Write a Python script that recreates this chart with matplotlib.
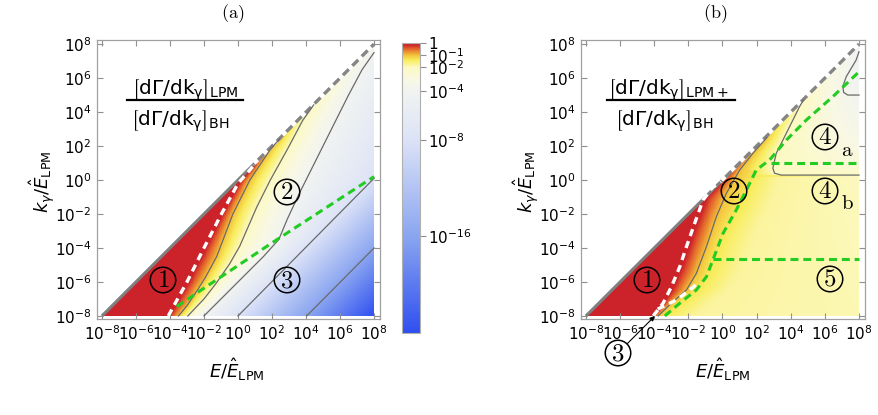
import numpy as np
import matplotlib.pyplot as plt
from matplotlib.colors import LinearSegmentedColormap, LogNorm
from matplotlib.cm import ScalarMappable

W, H = 879, 415
plt.rcParams['mathtext.fontset'] = 'dejavusans'

# decades shown on both axes (log10)
E_LIM = (-8.29, 8.35)
K_LIM = (-8.18, 8.24)
tick_exp = [-8, -6, -4, -2, 0, 2, 4, 6, 8]
cbar_ticks = [1, 1e-1, 1e-2, 1e-4, 1e-8, 1e-16]
cbar_labels = ['1', r'$10^{-1}$', r'$10^{-2}$', r'$10^{-4}$', r'$10^{-8}$', r'$10^{-16}$']

# colour scale: log10(ratio) -> colour
cmap_levels = [-24, -16, -8, -4, -3, -2, -1.4, -1, -0.5, -0.15, 0]
cmap_colors = ['#2e4ff0', '#8aa5f0', '#dce3f7', '#f1f3f1', '#f8f8e4', '#fcf9c2',
               '#f8ec5c', '#f3c23a', '#e46a2c', '#ce2529', '#cc2229']

# ---- panel (a): lines, (log10 E, log10 k), k increasing
a_white = [(-4.1, -8), (-3.0, -6.0), (-2.0, -4.0), (-1.0, -2.05), (0.0, -0.2), (0.6, 0.47), (1.0, 0.95)]
a_c1 = [(-3.5, -8), (-3.0, -7.4), (-2.4, -6.5), (-1.9, -5.7), (-1.25, -4.5), (-0.3, -2.0),
        (0.7, 0.0), (1.9, 1.8), (2.45, 2.42)]
a_c2 = [(-2.95, -8), (-2.0, -7.0), (-1.3, -6.1), (-0.5, -4.95), (0.1, -3.9), (1.1, -1.6),
        (1.9, 0.0), (2.9, 1.8), (3.8, 3.5), (4.45, 4.42)]
a_c4 = [(-2.0, -8), (0.0, -6.0), (1.5, -4.5), (2.4, -3.5), (2.9, -2.3), (3.6, -0.8),
        (4.5, 1.0), (5.5, 3.0), (6.5, 5.0), (7.3, 6.5), (8.0, 7.5)]
a_c8 = [(0.0, -8), (8.0, 0.1)]
a_c16 = [(4.04, -8), (8.0, -4.0)]
a_levels = [0, -1, -2, -4, -8, -16]
a_green = [(-3.6, -7.45), (-2.2, -6.5), (2.3, -3.5), (8.0, 0.2)]
a_diag_k = [-8, 0.9, 2.45, 4.45, 8]
a_diag_lev = [0, 0, -1, -2, -3.9]
a_edge_k = [-8, -4, 0.1, 7.5, 8]
a_edge_lev = [-24, -16, -8, -4, -3.9]

# ---- panel (b)
b_white = [(-4.06, -8), (-3.48, -7.25), (-2.99, -6.28), (-2.5, -5.1), (-2.11, -3.92),
           (-1.63, -2.55), (-1.14, -1.18), (-0.6, -0.45), (-0.1, -0.1)]
b_white2 = [(-3.8, -7.6), (-2.7, -7.06), (-1.92, -6.47), (-1.33, -5.98)]
b_c1 = [(-3.77, -8), (-2.99, -7.25), (-2.11, -6.47), (-1.53, -5.49), (-0.94, -3.92),
        (-0.36, -2.16), (0.23, -0.78), (1.01, 0.59), (1.78, 1.57), (2.6, 2.5)]
b_green = [(-3.38, -8), (-2.5, -7.25), (-1.53, -6.47), (-0.94, -5.69), (-0.56, -4.7),
           (0.03, -3.14), (0.81, -1.76), (1.4, -0.59), (1.98, 0.59), (2.76, 1.18),
           (3.74, 2.35), (4.91, 3.53), (6.46, 4.9), (8.0, 6.37)]
b_ridge = b_green[:9]
b_fade = [(-1.6, -8), (-0.7, -7.25), (0.3, -6.47), (0.9, -5.69), (1.3, -4.7),
          (1.9, -3.14), (2.6, -1.76), (3.1, -0.59), (3.3, 0.2)]
b_c2 = [(3.44, 0.29), (3.0, 0.45), (2.95, 0.7), (3.15, 1.57), (3.74, 2.75), (4.51, 4.31), (4.75, 4.72)]
b_levels = [0, -1, -1.35, -1.8, -2]
b_diag_k = [-8, -0.1, 2.6, 4.75, 8]
b_diag_lev = [0, 0, -1, -2, -3.9]
b_edge_k = [-8, -4.7, 0.2, 0.4, 1.0, 3.0, 5.0, 8]
b_edge_lev = [-1.92, -1.95, -1.99, -2.2, -2.7, -3.4, -4.0, -4.3]
b_green_hi = [(2.86, 0.98), (8.0, 0.98)]
b_green_lo = [(-0.56, -4.67), (8.0, -4.67)]
b_c2_full = [(8.0, 0.29), (3.44, 0.29), (3.05, 0.4), (2.95, 0.7), (3.15, 1.57), (3.74, 2.75),
             (4.51, 4.31), (4.75, 4.72)]
b_c4_full = [(8.0, 5.0), (7.34, 5.0), (7.1, 5.15), (7.05, 5.5), (7.25, 6.08), (7.83, 7.06), (8.0, 7.55)]


def build_field(lines, levels, diag_k, diag_lev, edge_k, edge_lev, n=420):
    le = np.linspace(-8, 8, n)
    lk = np.linspace(-8, 8, n)
    z = np.full((n, n), np.nan)
    for i, k in enumerate(lk):
        xs = [k]
        zs = [np.interp(k, diag_k, diag_lev)]
        for line, lev in zip(lines, levels):
            pe, pk = np.array(line).T
            if pk.min() <= k <= pk.max():
                xs.append(np.interp(k, pk, pe))
                zs.append(lev)
        xs.append(8.0)
        zs.append(np.interp(k, edge_k, edge_lev))
        order = np.argsort(xs)
        row = np.interp(le, np.array(xs)[order], np.array(zs)[order])
        row[le < k] = np.nan
        z[i] = row
    return le, lk, np.ma.masked_invalid(z)


def draw(ax, pts, **kw):
    e, k = np.array(pts).T
    ax.plot(10.0 ** e, 10.0 ** k, **kw)


def fig_xy(px, py):
    return px / W, 1 - py / H


def circled(x, y, s):
    fig.text(*fig_xy(x, y), r'$\mathbf{%s}$' % s, math_fontfamily='cm', fontsize=18,
             ha='center', va='center',
             bbox=dict(boxstyle='circle,pad=0.03', fc='none', ec='black', lw=1.1))


cmap = LinearSegmentedColormap.from_list(
    'lpm', [((l + 24) / 24, c) for l, c in zip(cmap_levels, cmap_colors)], N=1024)
norm = LogNorm(1e-24, 1)

fig = plt.figure(figsize=(W / 100, H / 100), dpi=100)
ax_a = fig.add_axes([97 / W, 1 - 319 / H, 283 / W, 279 / H])
ax_b = fig.add_axes([581 / W, 1 - 319 / H, 284 / W, 279 / H])
ax_cb = fig.add_axes([402 / W, 1 - 333 / H, 18 / W, 290 / H])

fields = [
    (ax_a, [a_white, a_c1, a_c2, a_c4, a_c8, a_c16], a_levels, a_diag_k, a_diag_lev,
     a_edge_k, a_edge_lev, 0.9),
    (ax_b, [b_white, b_c1, b_ridge, b_fade, b_c2], b_levels, b_diag_k, b_diag_lev,
     b_edge_k, b_edge_lev, -0.1),
]
for ax, lines, levs, dk, dl, ek, el, dash_from in fields:
    le, lk, z = build_field(lines, levs, dk, dl, ek, el)
    ax.pcolormesh(10.0 ** le, 10.0 ** lk, 10.0 ** z, cmap=cmap, norm=norm,
                  shading='nearest', rasterized=True)
    ax.set_xscale('log')
    ax.set_yscale('log')
    ax.set_xlim(10 ** E_LIM[0], 10 ** E_LIM[1])
    ax.set_ylim(10 ** K_LIM[0], 10 ** K_LIM[1])
    ax.set_xticks([10.0 ** p for p in tick_exp])
    ax.set_xticklabels([r'$10^{%d}$' % p for p in tick_exp])
    ax.set_yticks([10.0 ** p for p in tick_exp])
    ax.set_yticklabels([r'$10^{%d}$' % p for p in tick_exp])
    ax.minorticks_off()
    ax.tick_params(direction='in', length=4, width=0.8, color='#909090',
                   top=True, right=True, labelsize=11, pad=4)
    for sp in ax.spines.values():
        sp.set_color('#a0a0a0')
        sp.set_linewidth(0.9)
    # triangle edge k = E
    draw(ax, [(-8, -8), (dash_from, dash_from)], color='#808080', lw=2.2, solid_capstyle='butt')
    draw(ax, [(dash_from, dash_from), (8, 8)], color='white', lw=2.4, linestyle=(0, (2.5, 1.5)))
    draw(ax, [(dash_from, dash_from), (8, 8)], color='#858585', lw=2.4, linestyle=(2.0, (2.5, 1.5)))

# panel (a) lines
for ln in [a_c1, a_c2, a_c4, a_c8, a_c16]:
    draw(ax_a, ln, color='#6a6a6a', lw=0.9)
draw(ax_a, a_white, color='white', lw=2.4, linestyle=(0, (2.2, 1.6)))
draw(ax_a, a_green, color='#22cc22', lw=2.2, linestyle=(0, (2.6, 1.6)))

# panel (b) lines
for ln in [b_c1, b_c2_full, b_c4_full]:
    draw(ax_b, ln, color='#6a6a6a', lw=0.9)
draw(ax_b, b_white, color='white', lw=2.4, linestyle=(0, (2.2, 1.6)))
draw(ax_b, b_white2, color='white', lw=2.4, linestyle=(0, (2.2, 1.6)))
for ln in [b_green, b_green_hi, b_green_lo]:
    draw(ax_b, ln, color='#22cc22', lw=2.2, linestyle=(0, (2.6, 1.6)))

# region labels
for x, y, s in [(163, 280, '1'), (287, 192, '2'), (287, 280, '3'),
                (647, 280, '1'), (734, 191, '2'), (825, 137, '4'), (825, 191, '4'), (830, 279, '5')]:
    circled(x, y, s)
fig.text(*fig_xy(847, 150), r'$\mathrm{a}$', math_fontfamily='cm', fontsize=15, ha='center', va='center')
fig.text(*fig_xy(847, 203), r'$\mathrm{b}$', math_fontfamily='cm', fontsize=15, ha='center', va='center')
ax_b.annotate(r'$\mathbf{3}$', xy=(10 ** -3.96, 1e-8), xycoords='data',
              xytext=fig_xy(618, 353), textcoords='figure fraction', math_fontfamily='cm',
              fontsize=18, ha='center', va='center', annotation_clip=False,
              bbox=dict(boxstyle='circle,pad=0.03', fc='white', ec='black', lw=1.1),
              arrowprops=dict(arrowstyle='-|>', color='black', lw=0.8, mutation_scale=7,
                              shrinkA=0, shrinkB=0))

# ratio labels
num_a = r'$\left[\mathrm{d\Gamma/dk_{\gamma}}\right]_{\mathrm{LPM}}$'
num_b = r'$\left[\mathrm{d\Gamma/dk_{\gamma}}\right]_{\mathrm{LPM+}}$'
den = r'$\left[\mathrm{d\Gamma/dk_{\gamma}}\right]_{\mathrm{BH}}$'
for cx, bar, num in [(185, (127, 243), num_a), (669, (607, 735), num_b)]:
    fig.text(*fig_xy(cx, 90), num, fontsize=14.5, ha='center', va='center')
    fig.text(*fig_xy(cx - 5, 121), den, fontsize=14.5, ha='center', va='center')
    fig.add_artist(plt.Line2D([bar[0] / W, bar[1] / W], [1 - 100 / H] * 2, color='black', lw=1.6))

# panel titles and axis labels
fig.text(*fig_xy(233, 14), r'$\mathrm{(a)}$', math_fontfamily='cm', fontsize=13, ha='center', va='center')
fig.text(*fig_xy(715, 14), r'$\mathrm{(b)}$', math_fontfamily='cm', fontsize=13, ha='center', va='center')
for x in (42, 526):
    fig.text(*fig_xy(x, 182), r'$k_{\gamma}/\hat{E}_{\mathrm{LPM}}$', fontsize=13,
             rotation=90, ha='center', va='center')
for x in (237, 723):
    fig.text(*fig_xy(x, 370), r'$E/\hat{E}_{\mathrm{LPM}}$', fontsize=13, ha='center', va='center')

# colour bar
cb = fig.colorbar(ScalarMappable(norm=norm, cmap=cmap), cax=ax_cb, ticks=cbar_ticks)
cb.set_ticklabels(cbar_labels)
cb.minorticks_off()
cb.outline.set_edgecolor('#b0b0b0')
ax_cb.tick_params(length=4, width=0.8, color='#909090', labelsize=11, pad=2)

fig.savefig('out.png', dpi=100)
